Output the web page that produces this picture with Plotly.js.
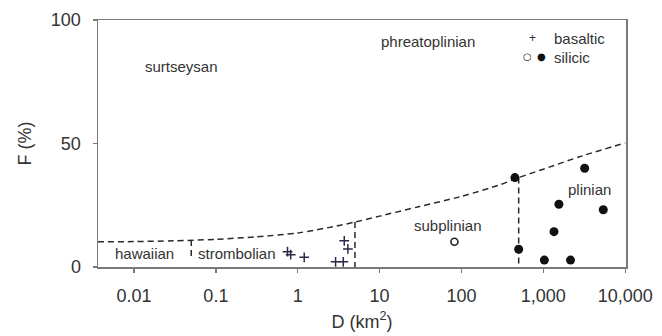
<!DOCTYPE html>
<html>
<head>
<meta charset="utf-8">
<script src="https://cdn.plot.ly/plotly-3.0.1.min.js"></script>
<style>
  html, body { margin: 0; padding: 0; background: #fff; }
  #chart { width: 662px; height: 336px; }
</style>
</head>
<body>
<div id="chart"></div>
<script>
// Dispersal area D (km^2) and fragmentation F (%) of deposits
var basalticD = [0.75, 0.82, 1.2, 3.7, 4.1, 2.9, 3.6];
var basalticF = [6.2, 5.0, 3.9, 10.6, 7.3, 2.1, 2.1];

var silicicFilledD = [450, 3200, 1550, 5400, 1350, 500, 1030, 2150];
var silicicFilledF = [36.2, 40.0, 25.4, 23.2, 14.3, 7.2, 2.8, 2.8];

var silicicOpenD = [82];
var silicicOpenF = [10.2];

// Boundary curve separating the eruption fields
var boundaryD = [0.0036, 0.01, 0.03, 0.1, 0.3, 1, 3, 5, 10, 30, 100, 300, 500, 1000, 3000, 10000];
var boundaryF = [10.2, 10.3, 10.6, 11.2, 12.2, 13.8, 16.6, 18.2, 20.6, 24.4, 28.6, 33.4, 36.2, 39.6, 45.0, 50.2];

// Vertical field dividers (D, upper F, lower F)
var dividerD = [0.05, 5, 500];
var dividerTop = [10.9, 18.2, 36.2];
var dividerBottom = [3, 0, 0];

var xTickVals = [0.01, 0.1, 1, 10, 100, 1000, 10000];
var xTickText = ['0.01', '0.1', '1', '10', '100', '1,000', '10,000'];
var yTickVals = [0, 50, 100];

var fieldNames = ['surtseysan', 'phreatoplinian', 'hawaiian', 'strombolian', 'subplinian', 'plinian'];

var ink = '#2a2a2a';
var dash = '6px,4px';

var traces = [];

traces.push({
  x: boundaryD, y: boundaryF, type: 'scatter', mode: 'lines',
  line: { color: ink, width: 1.5, dash: dash, shape: 'spline', smoothing: 0.8 },
  hoverinfo: 'skip', showlegend: false
});

for (var i = 0; i < dividerD.length; i++) {
  traces.push({
    x: [dividerD[i], dividerD[i]], y: [dividerTop[i], dividerBottom[i]],
    type: 'scatter', mode: 'lines',
    line: { color: ink, width: 1.5, dash: dash },
    hoverinfo: 'skip', showlegend: false
  });
}

traces.push({
  x: basalticD, y: basalticF, type: 'scatter', mode: 'markers', name: 'basaltic',
  marker: { symbol: 'cross-thin-open', size: 7, color: '#2b2b48', line: { color: '#2b2b48', width: 1.5 } },
  showlegend: false
});

traces.push({
  x: silicicFilledD, y: silicicFilledF, type: 'scatter', mode: 'markers', name: 'silicic',
  marker: { symbol: 'circle', size: 9, color: '#111' },
  showlegend: false
});

traces.push({
  x: silicicOpenD, y: silicicOpenF, type: 'scatter', mode: 'markers', name: 'silicic',
  marker: { symbol: 'circle-open', size: 7, color: '#222', line: { color: '#222', width: 1.6 } },
  showlegend: false
});

// Field labels, placed in paper fractions of the plot area
var fieldPos = [
  [0.159, 0.810], [0.625, 0.911], [0.089, 0.053],
  [0.263, 0.055], [0.663, 0.170], [0.930, 0.312]
];
var labelFont = { family: 'Liberation Sans, Arial, sans-serif', size: 15, color: '#333' };
var annotations = fieldNames.map(function (name, k) {
  return {
    text: name, xref: 'paper', yref: 'paper', x: fieldPos[k][0], y: fieldPos[k][1],
    xanchor: 'center', yanchor: 'middle', showarrow: false, font: labelFont
  };
});

// Key
annotations.push({ text: '+', xref: 'paper', yref: 'paper', x: 0.823, y: 0.928,
  xanchor: 'center', yanchor: 'middle', showarrow: false,
  font: { family: 'Liberation Sans, Arial, sans-serif', size: 12, color: '#2b2b48' } });
annotations.push({ text: 'basaltic', xref: 'paper', yref: 'paper', x: 0.860, y: 0.927,
  xanchor: 'left', yanchor: 'middle', showarrow: false, font: labelFont });
annotations.push({ text: '○', xref: 'paper', yref: 'paper', x: 0.813, y: 0.851,
  xanchor: 'center', yanchor: 'middle', showarrow: false,
  font: { family: 'DejaVu Sans, sans-serif', size: 10, color: '#222' } });
annotations.push({ text: '●', xref: 'paper', yref: 'paper', x: 0.840, y: 0.851,
  xanchor: 'center', yanchor: 'middle', showarrow: false,
  font: { family: 'DejaVu Sans, sans-serif', size: 10, color: '#111' } });
annotations.push({ text: 'silicic', xref: 'paper', yref: 'paper', x: 0.860, y: 0.850,
  xanchor: 'left', yanchor: 'middle', showarrow: false, font: labelFont });

var axisFont = { family: 'Liberation Sans, Arial, sans-serif', size: 18, color: '#333' };
var lineColor = '#7a7a7a';

var layout = {
  width: 662, height: 336,
  margin: { l: 98, r: 36, t: 20, b: 69 },
  paper_bgcolor: '#fff', plot_bgcolor: '#fff',
  showlegend: false,
  xaxis: {
    type: 'log', range: [-2.44, 4.01],
    tickmode: 'array', tickvals: xTickVals, ticktext: xTickText,
    ticks: 'outside', ticklen: 4, tickwidth: 1.3, tickcolor: lineColor,
    ticklabelstandoff: 8,
    showline: true, linecolor: lineColor, linewidth: 1.5, mirror: true,
    showgrid: false, zeroline: false,
    tickfont: axisFont,
    title: { text: 'D (km<sup>2</sup>)', font: axisFont, standoff: 10 }
  },
  yaxis: {
    range: [0, 100],
    tickmode: 'array', tickvals: yTickVals,
    ticks: 'outside', ticklen: 4, tickwidth: 1.3, tickcolor: lineColor,
    ticklabelstandoff: 8,
    showline: true, linecolor: lineColor, linewidth: 1.5, mirror: true,
    showgrid: false, zeroline: false,
    tickfont: axisFont,
    title: { text: 'F (%)', font: axisFont, standoff: 14 }
  },
  annotations: annotations
};

Plotly.newPlot('chart', traces, layout, { displayModeBar: false, staticPlot: true });
</script>
</body>
</html>
